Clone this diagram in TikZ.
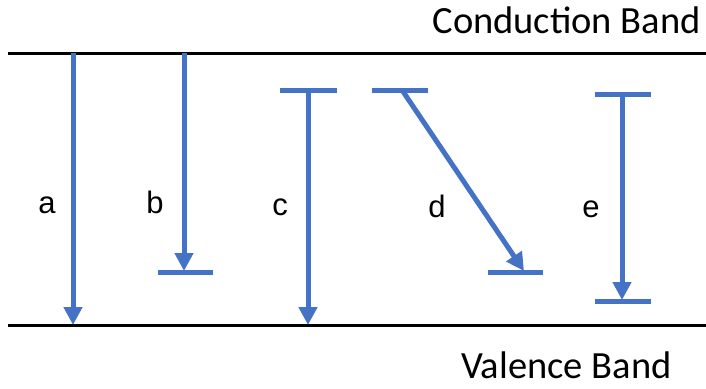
\documentclass[tikz,border=0pt]{standalone}
\usepackage{fontspec}
\setmainfont{Carlito}
\newfontfamily\letterfont{Liberation Sans}
\usetikzlibrary{arrows.meta}
\definecolor{transblue}{HTML}{4472C4}

\begin{document}
\begin{tikzpicture}[x=1pt, y=-1pt,
	band/.style={line width=3pt, color=black},
	trans/.style={line width=5pt, color=transblue, -{Triangle[width=18pt,length=18pt]}},
	lvl/.style={line width=5pt, color=transblue},
	bandtext/.style={font=\fontsize{38.5}{40}\selectfont, inner sep=0pt},
	letter/.style={font=\letterfont\fontsize{31}{33}\selectfont, inner sep=0pt, anchor=base}]
			%%%%% START %%%%%
			\useasboundingbox (0, 0) rectangle (706, 388);
			
			% bands
			\coordinate (cb left) at (8, 53);
			\coordinate (cb right) at (706, 53);
			\coordinate (vb left) at (8, 325);
			\coordinate (vb right) at (706, 325);
			\draw[band] (cb left) -- (cb right);
			\draw[band] (vb left) -- (vb right);
			\node[bandtext, anchor=base east] (cb text) at (701, 33) {Conduction Band};
			\node[bandtext, anchor=base west] (vb text) at (461, 378) {Valence Band};
			
			% a
			\coordinate (a top) at (73, 53);
			\coordinate (a bot) at (73, 325);
			\draw[trans] (a top) -- (a bot);
			\node[letter] (a) at (47, 213) {a};
			
			% b
			\coordinate (b top) at (184, 53);
			\coordinate (b bot) at (184, 271);
			\coordinate (b l) at (158, 272);
			\coordinate (b r) at (213, 272);
			\draw[lvl] (b l) -- (b r);
			\draw[trans] (b top) -- (b bot);
			\node[letter] (b) at (155, 213) {b};
			
			% c
			\coordinate (c l) at (280, 90);
			\coordinate (c r) at (337, 90);
			\coordinate (c top) at (308, 90);
			\coordinate (c bot) at (308, 325);
			\draw[lvl] (c l) -- (c r);
			\draw[trans] (c top) -- (c bot);
			\node[letter] (c) at (280, 215) {c};
			
			% d
			\coordinate (d l) at (372, 90);
			\coordinate (d r) at (428, 90);
			\coordinate (d top) at (402, 90);
			\coordinate (d bot) at (524, 271);
			\coordinate (d bl) at (488, 272);
			\coordinate (d br) at (543, 272);
			\draw[lvl] (d l) -- (d r);
			\draw[lvl] (d bl) -- (d br);
			\draw[trans] (d top) -- (d bot);
			\node[letter] (d) at (437, 217) {d};
			
			% e
			\coordinate (e l) at (595, 94);
			\coordinate (e r) at (651, 94);
			\coordinate (e top) at (622, 94);
			\coordinate (e bot) at (622, 300);
			\coordinate (e bl) at (595, 301);
			\coordinate (e br) at (651, 301);
			\draw[lvl] (e l) -- (e r);
			\draw[lvl] (e bl) -- (e br);
			\draw[trans] (e top) -- (e bot);
			\node[letter] (e) at (591, 217) {e};
			%%%%% END %%%%%
\end{tikzpicture}
\end{document}
